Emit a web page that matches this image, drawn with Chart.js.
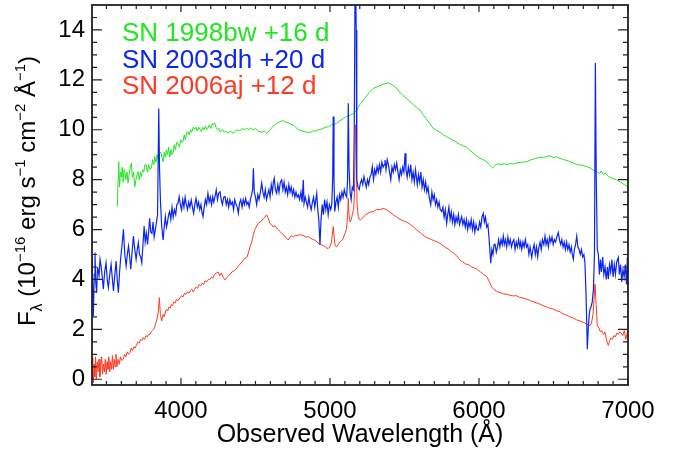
<!DOCTYPE html>
<html>
<head>
<meta charset="utf-8">
<script src="https://cdn.jsdelivr.net/npm/chart.js@4.4.1/dist/chart.umd.min.js"></script>
<style>
  html, body { margin: 0; padding: 0; background: #fff; }
  #wrap { width: 680px; height: 452px; }
</style>
</head>
<body>
<div id="wrap"><canvas id="spectra" width="680" height="452"></canvas></div>
<script>
// [wavelength (Å), flux (1e-16 erg s-1 cm-2 Å-1)]
const sn1998bw = [
  [3573, 6.92], [3578, 8.0], [3582, 8.72], [3588, 7.7], [3594, 8.3], [3600, 8.1], [3606, 8.5], [3612, 7.9],
  [3618, 8.4], [3622, 8.39], [3630, 8.0], [3638, 8.3], [3645, 7.86], [3652, 8.2], [3660, 8.5], [3667, 8.66],
  [3674, 8.1], [3682, 8.3], [3690, 7.72], [3698, 8.0], [3705, 8.2], [3712, 8.32], [3720, 8.0], [3727, 8.3],
  [3734, 8.12], [3742, 8.4], [3750, 8.3], [3758, 8.6], [3767, 8.59], [3775, 8.3], [3784, 8.6], [3792, 8.4],
  [3801, 8.46], [3810, 8.8], [3818, 8.6], [3824, 8.92], [3832, 8.7], [3840, 9.0], [3849, 8.8], [3857, 9.06],
  [3865, 9.1], [3872, 8.9], [3880, 8.72], [3888, 9.1], [3895, 8.9], [3902, 9.19], [3910, 9.0], [3918, 9.3],
  [3925, 8.9], [3933, 9.2], [3940, 9.0], [3947, 9.06], [3955, 9.4], [3963, 9.2], [3972, 9.5], [3980, 9.46],
  [3990, 9.3], [3998, 9.6], [4006, 9.5], [4014, 9.52], [4022, 9.8], [4030, 9.6], [4038, 9.9], [4047, 9.92],
  [4055, 9.8], [4064, 10.0], [4072, 9.9], [4082, 10.1], [4092, 10.02], [4100, 10.1], [4110, 9.95], [4120, 10.1],
  [4130, 10.0], [4137, 9.92], [4146, 10.1], [4155, 10.0], [4165, 10.15], [4173, 10.0], [4181, 10.06], [4190, 10.2],
  [4200, 10.05], [4210, 10.25], [4218, 10.19], [4226, 10.28], [4235, 10.1], [4245, 10.0], [4255, 10.05], [4262, 9.92],
  [4271, 9.95], [4280, 10.0], [4290, 9.9], [4300, 9.95], [4316, 9.86], [4330, 9.95], [4350, 9.86], [4365, 9.95],
  [4380, 10.0], [4395, 9.95], [4410, 10.05], [4425, 10.0], [4441, 10.06], [4455, 10.0], [4470, 10.08], [4485, 9.98],
  [4500, 10.05], [4515, 9.95], [4530, 9.92], [4545, 9.9], [4560, 9.95], [4575, 9.86], [4590, 9.95], [4605, 10.05],
  [4620, 10.15], [4642, 10.26], [4665, 10.32], [4687, 10.37], [4705, 10.3], [4720, 10.28], [4737, 10.22], [4754, 10.19],
  [4770, 10.1], [4790, 10.0], [4810, 9.95], [4830, 9.92], [4850, 9.9], [4866, 9.89], [4885, 9.95], [4905, 9.95],
  [4925, 10.0], [4940, 10.02], [4953, 10.06], [4970, 10.1], [4990, 10.12], [5010, 10.2], [5030, 10.22], [5045, 10.26],
  [5067, 10.36], [5090, 10.45], [5110, 10.52], [5135, 10.58], [5157, 10.66], [5175, 10.75], [5190, 10.9], [5205, 11.05],
  [5224, 11.19], [5245, 11.35], [5265, 11.5], [5291, 11.66], [5310, 11.7], [5330, 11.75], [5355, 11.82], [5375, 11.85],
  [5391, 11.88], [5410, 11.82], [5430, 11.75], [5448, 11.66], [5470, 11.5], [5490, 11.38], [5515, 11.25], [5537, 11.13],
  [5560, 11.0], [5580, 10.9], [5604, 10.79], [5625, 10.6], [5645, 10.45], [5670, 10.25], [5693, 10.06], [5715, 9.98],
  [5740, 9.9], [5760, 9.8], [5783, 9.72], [5805, 9.65], [5825, 9.58], [5850, 9.5], [5870, 9.42], [5895, 9.35],
  [5915, 9.3], [5935, 9.2], [5962, 9.06], [5985, 8.95], [6010, 8.85], [6030, 8.8], [6052, 8.72], [6070, 8.6],
  [6085, 8.5], [6092, 8.46], [6105, 8.55], [6115, 8.62], [6130, 8.63], [6150, 8.6], [6170, 8.64], [6190, 8.6],
  [6210, 8.65], [6230, 8.63], [6260, 8.68], [6290, 8.7], [6320, 8.72], [6350, 8.8], [6380, 8.85], [6409, 8.9],
  [6440, 8.9], [6465, 8.95], [6477, 8.95], [6500, 8.88], [6520, 8.92], [6544, 8.85], [6570, 8.8], [6600, 8.75],
  [6633, 8.66], [6660, 8.6], [6690, 8.58], [6723, 8.52], [6750, 8.45], [6775, 8.35], [6790, 8.32], [6810, 8.25],
  [6820, 8.35], [6835, 8.2], [6846, 8.26], [6870, 8.12], [6895, 8.05], [6924, 7.99], [6950, 7.9], [6975, 7.8],
  [7002, 7.72]
];

const sn2003dh = [
  [3403, 4.94], [3412, 2.54], [3418, 4.2], [3423, 5.08], [3428, 3.9], [3434, 3.47], [3440, 4.5], [3450, 4.14],
  [3457, 4.8], [3464, 4.54], [3472, 4.1], [3479, 3.61], [3488, 4.3], [3497, 4.67], [3505, 4.0], [3513, 3.67],
  [3522, 4.2], [3531, 4.61], [3540, 4.0], [3547, 3.54], [3556, 4.2], [3565, 4.74], [3572, 4.0], [3580, 3.47],
  [3588, 4.3], [3596, 4.87], [3605, 5.4], [3614, 6.01], [3623, 5.0], [3632, 4.54], [3640, 5.0], [3648, 5.34],
  [3656, 4.9], [3663, 4.41], [3672, 5.1], [3681, 5.74], [3690, 5.2], [3699, 4.81], [3707, 5.2], [3714, 5.48],
  [3722, 5.0], [3730, 4.9], [3737, 4.67], [3745, 5.4], [3753, 6.14], [3760, 5.5], [3768, 5.85], [3776, 5.4],
  [3784, 6.0], [3790, 6.45], [3797, 5.9], [3805, 5.85], [3813, 6.3], [3820, 5.7], [3828, 6.0], [3836, 6.3],
  [3843, 6.6], [3851, 10.85], [3856, 8.5], [3862, 7.19], [3870, 6.2], [3880, 5.58], [3888, 6.1], [3895, 6.52],
  [3903, 6.1], [3910, 6.3], [3917, 6.6], [3924, 6.72], [3932, 6.4], [3940, 6.9], [3948, 6.5], [3956, 6.8],
  [3965, 6.6], [3972, 7.0], [3980, 7.05], [3988, 7.32], [3996, 7.0], [4004, 6.79], [4012, 7.2], [4020, 6.9],
  [4028, 7.3], [4036, 7.0], [4044, 6.8], [4052, 7.1], [4060, 6.9], [4069, 7.19], [4077, 6.9], [4085, 6.65],
  [4093, 7.0], [4101, 7.25], [4110, 6.9], [4118, 7.1], [4126, 6.8], [4134, 7.0], [4141, 6.7], [4148, 6.52],
  [4156, 6.9], [4164, 7.2], [4172, 7.0], [4181, 7.45], [4189, 7.1], [4197, 7.3], [4205, 7.0], [4213, 7.32],
  [4220, 7.1], [4228, 7.3], [4237, 7.59], [4245, 7.2], [4253, 7.45], [4262, 7.52], [4270, 7.2], [4278, 7.0],
  [4287, 7.3], [4296, 7.32], [4304, 7.0], [4312, 7.2], [4320, 6.9], [4328, 7.2], [4336, 7.0], [4345, 7.1],
  [4353, 6.8], [4361, 7.2], [4370, 7.0], [4378, 6.9], [4385, 6.65], [4393, 7.05], [4401, 7.2], [4410, 6.9],
  [4418, 7.2], [4426, 7.0], [4434, 7.25], [4442, 7.0], [4450, 7.1], [4458, 6.9], [4466, 7.2], [4474, 7.4],
  [4481, 7.6], [4486, 8.46], [4492, 7.5], [4500, 7.3], [4508, 7.0], [4516, 7.4], [4524, 7.2], [4533, 7.5],
  [4542, 7.86], [4550, 7.5], [4558, 7.3], [4566, 7.6], [4574, 7.2], [4582, 7.4], [4590, 7.6], [4598, 7.3],
  [4606, 7.8], [4614, 7.5], [4620, 7.9], [4626, 8.06], [4634, 7.6], [4642, 7.45], [4650, 7.8], [4658, 7.5],
  [4667, 7.9], [4676, 7.99], [4684, 7.6], [4692, 7.9], [4700, 7.5], [4708, 7.7], [4716, 7.4], [4724, 7.8],
  [4732, 7.5], [4740, 7.7], [4748, 7.4], [4756, 7.6], [4764, 7.3], [4772, 7.5], [4780, 7.3], [4788, 7.39],
  [4796, 7.2], [4805, 7.5], [4813, 7.1], [4821, 7.99], [4826, 7.05], [4834, 7.3], [4842, 7.1], [4850, 6.9],
  [4858, 7.3], [4866, 7.0], [4874, 6.8], [4882, 7.1], [4890, 7.3], [4898, 6.9], [4905, 7.2], [4911, 7.45],
  [4918, 6.8], [4925, 6.4], [4933, 5.38], [4940, 6.4], [4948, 7.0], [4956, 6.6], [4964, 7.2], [4972, 6.8],
  [4980, 7.1], [4988, 6.6], [4996, 7.0], [5005, 6.8], [5012, 7.0], [5018, 8.0], [5022, 10.53], [5027, 8.0],
  [5032, 6.72], [5040, 7.1], [5048, 7.3], [5056, 6.9], [5064, 7.4], [5072, 7.2], [5080, 7.5], [5088, 7.3],
  [5096, 7.6], [5104, 7.4], [5112, 7.3], [5118, 8.0], [5123, 11.06], [5128, 8.5], [5135, 7.5], [5142, 7.2],
  [5150, 7.7], [5158, 7.6], [5163, 10.0], [5168, 15.5], [5172, 16.0], [5176, 14.0], [5180, 8.0], [5188, 7.7],
  [5196, 7.6], [5204, 7.86], [5212, 8.0], [5220, 7.8], [5228, 8.12], [5236, 7.9], [5244, 7.7], [5252, 8.0],
  [5260, 7.8], [5268, 8.1], [5276, 8.2], [5284, 8.52], [5292, 8.0], [5300, 8.4], [5308, 8.2], [5316, 8.52],
  [5324, 8.3], [5332, 8.6], [5340, 8.3], [5348, 8.7], [5356, 8.5], [5364, 8.6], [5369, 8.79], [5376, 8.4],
  [5384, 8.8], [5392, 8.6], [5400, 8.3], [5408, 8.0], [5416, 8.5], [5424, 8.3], [5432, 8.6], [5440, 8.4],
  [5448, 8.66], [5456, 8.3], [5464, 8.0], [5472, 8.4], [5480, 8.2], [5488, 8.5], [5496, 8.3], [5504, 9.06],
  [5510, 8.4], [5518, 8.1], [5526, 8.5], [5534, 8.2], [5542, 8.6], [5550, 8.0], [5558, 8.3], [5566, 7.9],
  [5574, 8.4], [5586, 7.79], [5594, 8.2], [5602, 7.9], [5610, 8.3], [5618, 7.7], [5626, 8.0], [5634, 7.6],
  [5642, 7.9], [5650, 7.5], [5658, 7.7], [5666, 7.3], [5676, 6.99], [5684, 7.5], [5692, 7.2], [5700, 7.4],
  [5708, 7.0], [5716, 7.2], [5724, 6.9], [5732, 7.1], [5740, 6.8], [5750, 6.72], [5758, 6.9], [5766, 6.5],
  [5774, 6.8], [5783, 6.25], [5790, 6.6], [5798, 6.9], [5806, 6.4], [5814, 6.7], [5822, 6.3], [5830, 6.6],
  [5838, 6.2], [5846, 6.5], [5854, 6.3], [5862, 6.6], [5870, 6.2], [5878, 6.4], [5884, 6.52], [5892, 6.2],
  [5900, 6.4], [5908, 6.1], [5916, 6.4], [5924, 6.0], [5932, 6.3], [5940, 6.1], [5948, 6.4], [5956, 6.0],
  [5964, 6.3], [5972, 5.9], [5980, 6.2], [5988, 6.0], [5996, 5.98], [6004, 6.3], [6012, 6.1], [6020, 6.5],
  [6029, 6.65], [6036, 6.3], [6044, 6.5], [6052, 6.1], [6060, 6.2], [6068, 5.6], [6079, 4.65], [6086, 5.2],
  [6094, 5.0], [6101, 5.4], [6108, 5.41], [6116, 5.1], [6124, 5.3], [6132, 5.6], [6140, 5.3], [6148, 5.6],
  [6156, 5.4], [6163, 5.74], [6170, 5.4], [6178, 5.6], [6186, 5.3], [6194, 5.7], [6202, 5.4], [6210, 5.6],
  [6218, 5.3], [6226, 5.5], [6234, 5.6], [6242, 5.2], [6250, 5.5], [6258, 5.3], [6266, 5.6], [6274, 5.3],
  [6280, 5.5], [6287, 5.21], [6295, 5.5], [6303, 5.3], [6311, 5.6], [6319, 5.3], [6327, 5.4], [6335, 5.0],
  [6343, 5.3], [6354, 4.88], [6362, 5.2], [6370, 5.4], [6378, 5.0], [6386, 5.3], [6394, 4.9], [6402, 5.3],
  [6410, 5.5], [6418, 5.2], [6426, 5.6], [6435, 5.4], [6443, 5.74], [6450, 5.4], [6458, 5.6], [6466, 5.3],
  [6474, 5.7], [6482, 5.5], [6490, 5.7], [6498, 5.4], [6506, 5.6], [6514, 5.5], [6522, 5.7], [6532, 5.88],
  [6540, 5.6], [6548, 5.4], [6556, 5.6], [6564, 5.3], [6572, 5.5], [6580, 5.2], [6588, 5.5], [6596, 5.2],
  [6604, 5.4], [6612, 5.1], [6620, 5.3], [6626, 5.0], [6633, 4.81], [6640, 5.2], [6648, 5.4], [6656, 5.74],
  [6664, 5.3], [6672, 5.2], [6680, 5.0], [6688, 5.2], [6696, 4.9], [6704, 5.0], [6711, 4.67], [6718, 3.5],
  [6727, 1.2], [6733, 2.0], [6740, 2.6], [6745, 2.81], [6752, 2.9], [6760, 3.1], [6768, 3.6], [6775, 5.0],
  [6781, 12.68], [6787, 8.0], [6794, 5.2], [6801, 5.01], [6808, 4.2], [6815, 4.8], [6822, 4.3], [6830, 4.9],
  [6838, 4.2], [6846, 4.5], [6854, 4.0], [6862, 4.5], [6868, 4.01], [6876, 4.6], [6884, 4.3], [6892, 4.8],
  [6900, 4.1], [6908, 4.6], [6916, 4.2], [6924, 4.7], [6935, 4.88], [6942, 4.2], [6950, 4.6], [6958, 3.9],
  [6966, 4.4], [6974, 4.1], [6982, 4.6], [6990, 3.8], [6996, 4.9], [7002, 3.6]
];

const sn2006aj = [
  [3403, 0.87], [3408, 0.2], [3412, -0.14], [3417, 0.6], [3422, 0.1], [3427, 0.9], [3432, 0.0], [3438, 0.7],
  [3444, 0.3], [3450, 0.8], [3456, 0.1], [3462, 0.5], [3468, 0.9], [3474, 0.2], [3480, 0.6], [3486, 0.3],
  [3492, 0.8], [3498, 0.2], [3504, 0.7], [3510, 0.4], [3516, 0.9], [3522, 0.3], [3528, 0.7], [3534, 0.4],
  [3540, 0.95], [3546, 0.4], [3552, 0.8], [3558, 0.5], [3564, 1.0], [3570, 0.5], [3578, 0.8], [3586, 0.6],
  [3594, 0.9], [3603, 0.75], [3613, 0.8], [3622, 1.0], [3630, 0.9], [3640, 1.1], [3648, 1.0], [3658, 1.07],
  [3666, 1.25], [3675, 1.15], [3684, 1.3], [3693, 1.25], [3703, 1.4], [3712, 1.5], [3720, 1.45], [3730, 1.6],
  [3738, 1.55], [3747, 1.67], [3756, 1.6], [3765, 1.75], [3774, 1.7], [3783, 1.8], [3792, 1.8], [3800, 1.9],
  [3808, 1.95], [3816, 2.0], [3826, 2.14], [3834, 2.3], [3842, 2.5], [3848, 2.7], [3855, 3.27], [3862, 2.6],
  [3871, 2.34], [3880, 2.6], [3888, 2.5], [3896, 2.7], [3904, 2.81], [3912, 2.75], [3920, 2.9], [3928, 2.85],
  [3936, 3.0], [3944, 2.95], [3952, 3.1], [3960, 3.05], [3970, 3.2], [3980, 3.15], [3994, 3.27], [4004, 3.35],
  [4014, 3.3], [4024, 3.45], [4034, 3.4], [4044, 3.5], [4054, 3.45], [4063, 3.55], [4072, 3.61], [4082, 3.5],
  [4092, 3.6], [4102, 3.7], [4112, 3.65], [4122, 3.8], [4132, 3.75], [4142, 3.85], [4152, 3.8], [4162, 3.95],
  [4172, 3.9], [4184, 4.0], [4195, 4.01], [4205, 4.1], [4215, 4.05], [4225, 4.2], [4240, 4.27], [4250, 4.3],
  [4260, 4.15], [4270, 4.25], [4282, 4.1], [4296, 3.98], [4307, 4.07], [4318, 4.15], [4330, 4.2], [4342, 4.3],
  [4355, 4.35], [4368, 4.4], [4380, 4.5], [4396, 4.61], [4410, 4.7], [4418, 4.78], [4430, 4.85], [4441, 4.87],
  [4452, 5.05], [4463, 5.31], [4475, 5.5], [4486, 5.8], [4496, 6.0], [4505, 6.1], [4519, 6.25], [4530, 6.3],
  [4542, 6.35], [4553, 6.45], [4564, 6.5], [4575, 6.59], [4586, 6.45], [4597, 6.25], [4608, 6.2], [4620, 6.1],
  [4632, 6.15], [4643, 6.05], [4654, 6.0], [4665, 5.92], [4676, 5.85], [4688, 5.8], [4700, 5.7], [4710, 5.65],
  [4720, 5.58], [4732, 5.7], [4744, 5.75], [4756, 5.7], [4768, 5.78], [4780, 5.75], [4795, 5.8], [4810, 5.78],
  [4825, 5.75], [4840, 5.7], [4855, 5.72], [4870, 5.65], [4885, 5.6], [4899, 5.58], [4912, 5.5], [4925, 5.45],
  [4944, 5.38], [4958, 5.35], [4970, 5.3], [4980, 5.25], [4989, 5.25], [5000, 5.3], [5010, 5.5], [5016, 5.8],
  [5022, 6.12], [5028, 5.7], [5035, 5.35], [5045, 5.3], [5055, 5.4], [5065, 5.5], [5075, 5.55], [5085, 5.6],
  [5095, 5.75], [5101, 5.85], [5110, 6.0], [5118, 6.5], [5123, 7.25], [5128, 6.6], [5135, 6.3], [5143, 6.4],
  [5150, 6.6], [5158, 6.8], [5165, 7.5], [5170, 9.5], [5172, 10.2], [5176, 9.0], [5182, 7.0], [5190, 6.52],
  [5198, 6.4], [5205, 6.38], [5215, 6.45], [5225, 6.5], [5240, 6.6], [5255, 6.65], [5270, 6.7], [5291, 6.72],
  [5313, 6.81], [5336, 6.79], [5358, 6.85], [5381, 6.79], [5403, 6.7], [5425, 6.59], [5448, 6.5], [5470, 6.41],
  [5490, 6.35], [5515, 6.3], [5540, 6.2], [5559, 6.12], [5580, 6.0], [5600, 5.9], [5620, 5.8], [5638, 5.72],
  [5660, 5.65], [5680, 5.6], [5700, 5.55], [5720, 5.5], [5738, 5.45], [5760, 5.35], [5783, 5.25], [5800, 5.2],
  [5815, 5.1], [5830, 5.05], [5850, 4.95], [5873, 4.78], [5890, 4.7], [5910, 4.62], [5930, 4.6], [5950, 4.5],
  [5973, 4.45], [5990, 4.4], [6010, 4.3], [6030, 4.2], [6052, 4.12], [6070, 3.9], [6085, 3.7], [6100, 3.6],
  [6120, 3.52], [6141, 3.47], [6165, 3.42], [6190, 3.4], [6210, 3.36], [6230, 3.34], [6250, 3.35], [6275, 3.28],
  [6300, 3.25], [6320, 3.21], [6345, 3.15], [6370, 3.1], [6390, 3.05], [6409, 3.01], [6430, 2.95], [6455, 2.9],
  [6475, 2.85], [6499, 2.81], [6520, 2.75], [6545, 2.7], [6565, 2.62], [6588, 2.57], [6610, 2.5], [6635, 2.45],
  [6655, 2.38], [6678, 2.34], [6700, 2.28], [6720, 2.22], [6734, 2.18], [6745, 2.15], [6755, 2.25], [6765, 2.6],
  [6772, 3.2], [6779, 3.81], [6786, 3.0], [6794, 2.14], [6805, 2.05], [6815, 1.9], [6825, 1.95], [6835, 1.8],
  [6845, 1.9], [6855, 1.6], [6862, 1.45], [6868, 1.36], [6875, 1.5], [6885, 1.65], [6895, 1.6], [6905, 1.75],
  [6915, 1.7], [6925, 1.85], [6935, 1.8], [6945, 1.9], [6955, 1.85], [6965, 1.75], [6975, 1.95], [6985, 1.6],
  [6995, 1.85], [7002, 1.96]
];

const seriesLabels = ['SN 1998bw +16 d', 'SN 2003dh +20 d', 'SN 2006aj +12 d'];
const seriesColors = ['#22e622', '#0b25f0', '#ff3a24'];
const xTickValues = [4000, 5000, 6000, 7000];
const yTickValues = [0, 2, 4, 6, 8, 10, 12, 14];
const xRange = [3403, 7000];
const yRange = [-0.23, 15];

const FONT = "'Liberation Sans', Arial, Helvetica, sans-serif";

function toPoints(pairs) {
  return pairs.map(p => ({ x: p[0], y: p[1] }));
}

// IDL-style box: frame plus inward ticks on all four sides
const frameTicks = {
  id: 'frameTicks',
  afterDatasetsDraw(chart) {
    const { ctx, chartArea: a, scales: { x, y } } = chart;
    ctx.save();
    ctx.strokeStyle = '#222';
    ctx.lineWidth = 1.2;
    ctx.beginPath();
    for (let w = 3500; w <= 7000; w += 100) {
      const px = x.getPixelForValue(w);
      const len = w % 1000 === 0 ? 7 : 4;
      ctx.moveTo(px, a.bottom); ctx.lineTo(px, a.bottom - len);
      ctx.moveTo(px, a.top); ctx.lineTo(px, a.top + len);
    }
    for (let f = 0; f <= 14.5; f += 0.5) {
      const py = y.getPixelForValue(f);
      const len = f % 2 === 0 ? 10 : 5;
      ctx.moveTo(a.left, py); ctx.lineTo(a.left + len, py);
      ctx.moveTo(a.right, py); ctx.lineTo(a.right - len, py);
    }
    ctx.stroke();
    ctx.lineWidth = 1.8;
    ctx.strokeRect(a.left, a.top, a.right - a.left, a.bottom - a.top);
    ctx.restore();
  }
};

// coloured text legend in the upper left
const textLegend = {
  id: 'textLegend',
  afterDraw(chart) {
    const { ctx } = chart;
    ctx.save();
    ctx.font = '26px ' + FONT;
    ctx.textBaseline = 'alphabetic';
    ctx.textAlign = 'left';
    seriesLabels.forEach((lab, i) => {
      ctx.fillStyle = seriesColors[i];
      ctx.fillText(lab, 122, 41 + i * 26.7);
    });
    ctx.restore();
  }
};

// y title with sub/superscripts: F_λ (10^-16 erg s^-1 cm^-2 Å^-1)
const yTitle = {
  id: 'yTitle',
  afterDraw(chart) {
    const { ctx } = chart;
    const parts = [
      { t: 'F', s: 24, dy: 0 },
      { t: 'λ', s: 16, dy: 7 },
      { t: ' (10', s: 24, dy: 0 },
      { t: '−16', s: 15, dy: -10 },
      { t: ' erg s', s: 24, dy: 0 },
      { t: '−1', s: 15, dy: -10 },
      { t: ' cm', s: 24, dy: 0 },
      { t: '−2', s: 15, dy: -10 },
      { t: ' Å', s: 24, dy: 0 },
      { t: '−1', s: 15, dy: -10 },
      { t: ')', s: 24, dy: 0 }
    ];
    ctx.save();
    let total = 0;
    parts.forEach(p => { ctx.font = p.s + 'px ' + FONT; p.w = ctx.measureText(p.t).width; total += p.w; });
    ctx.translate(35, 191);
    ctx.rotate(-Math.PI / 2);
    ctx.fillStyle = '#000';
    ctx.textBaseline = 'alphabetic';
    let cx = -total / 2;
    parts.forEach(p => {
      ctx.font = p.s + 'px ' + FONT;
      ctx.fillText(p.t, cx, p.dy);
      cx += p.w;
    });
    ctx.restore();
  }
};

const spectra = [sn1998bw, sn2003dh, sn2006aj];
const drawOrder = [2, 0, 1];

new Chart(document.getElementById('spectra'), {
  type: 'line',
  data: {
    datasets: spectra.map((s, i) => ({
      label: seriesLabels[i],
      data: toPoints(s),
      borderColor: seriesColors[i],
      borderWidth: i === 1 ? 1.2 : 1,
      pointRadius: 0,
      tension: 0,
      fill: false,
      order: drawOrder[i]
    }))
  },
  options: {
    responsive: false,
    animation: false,
    devicePixelRatio: 1,
    layout: { padding: { left: 0, right: 52, top: 5, bottom: 0 } },
    plugins: {
      legend: { display: false },
      tooltip: { enabled: false }
    },
    scales: {
      x: {
        type: 'linear',
        min: xRange[0],
        max: xRange[1],
        afterBuildTicks: (scale) => { scale.ticks = xTickValues.map(v => ({ value: v })); },
        afterFit: (scale) => {
          scale.height = 67;
          scale.paddingLeft = 0;
          scale.paddingRight = 0;
        },
        grid: { display: false, drawTicks: false },
        border: { display: false },
        ticks: {
          color: '#000',
          font: { family: FONT, size: 24 },
          padding: 12,
          maxRotation: 0,
          callback: (v) => String(v)
        },
        title: {
          display: true,
          text: 'Observed Wavelength (Å)',
          color: '#000',
          font: { family: FONT, size: 25 },
          padding: { top: 0, bottom: 2 }
        }
      },
      y: {
        type: 'linear',
        min: yRange[0],
        max: yRange[1],
        afterBuildTicks: (scale) => { scale.ticks = yTickValues.map(v => ({ value: v })); },
        afterFit: (scale) => {
          scale.width = 92;
          scale.paddingTop = 0;
          scale.paddingBottom = 0;
        },
        grid: { display: false, drawTicks: false },
        border: { display: false },
        ticks: {
          color: '#000',
          font: { family: FONT, size: 24 },
          padding: 7,
          callback: (v) => String(v)
        }
      }
    }
  },
  plugins: [frameTicks, textLegend, yTitle]
});
</script>
</body>
</html>
